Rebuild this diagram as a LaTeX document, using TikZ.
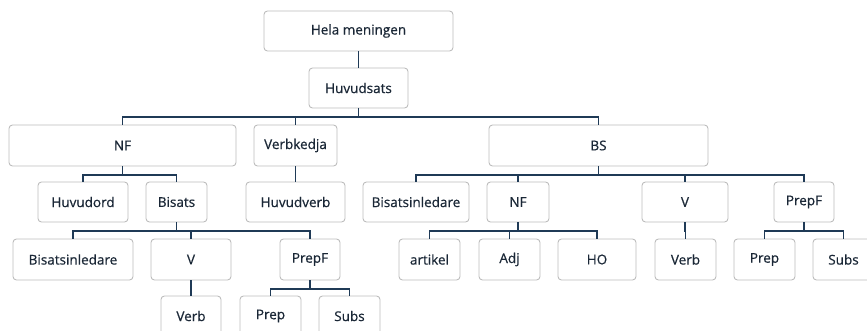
\documentclass[tikz,border=0pt]{standalone}
\usepackage{fontspec}
\setmainfont{Open Sans}
\newfontfamily\labelfont[FakeBold=0.5]{Open Sans}
\definecolor{ink}{HTML}{1A2736}
\definecolor{wire}{HTML}{1F3A56}
\definecolor{frame}{HTML}{BDBDBD}
\begin{document}
\begin{tikzpicture}[x=1pt,y=-1pt,
  box/.style={draw=frame, line width=0.9pt, rounded corners=3.5pt, fill=white,
    text=ink, font=\labelfont\fontsize{13.5}{15}\selectfont, inner sep=0pt, minimum height=40pt},
  link/.style={draw=wire, line width=1.8pt}]
\useasboundingbox (0,0) rectangle (867,331);
\clip (0,0) rectangle (867,331);

% level 1
\node[box, minimum width=189pt] (hela) at (358.5,31) {Hela meningen};
\node[box, minimum width=99pt]  (huv)  at (358.5,88) {Huvudsats};

% level 2
\node[box, minimum width=227pt, minimum height=41pt] (nf) at (122.5,145.5) {NF};
\node[box, minimum width=83pt,  minimum height=41pt] (vk) at (295.5,145.5) {Verbkedja};
\node[box, minimum width=219pt, minimum height=41pt] (bs) at (598.5,145.5) {BS};

% level 3
\node[box, minimum width=90pt]  (hord)   at (83,202)    {Huvudord};
\node[box, minimum width=61pt]  (bis)    at (176.5,202) {Bisats};
\node[box, minimum width=99pt]  (hverb)  at (295.5,202) {Huvudverb};
\node[box, minimum width=106pt] (bsinl)  at (416,202)   {Bisatsinledare};
\node[box, minimum width=62pt]  (bsnf)   at (518,202)   {NF};
\node[box, minimum width=86pt]  (bsv)    at (685,202)   {V};
\node[box, minimum width=60pt]  (bsprep) at (804,202)   {PrepF};

% level 4
\node[box, minimum width=120pt, minimum height=41pt] (binl)  at (73,259.5)    {Bisatsinledare};
\node[box, minimum width=80pt,  minimum height=41pt] (bv)    at (191,259.5)   {V};
\node[box, minimum width=60pt,  minimum height=41pt] (bpf)   at (310,259.5)   {PrepF};
\node[box, minimum width=61pt,  minimum height=41pt] (art)   at (429.5,259.5) {artikel};
\node[box, minimum width=61pt,  minimum height=41pt] (adj)   at (509.5,259.5) {Adj};
\node[box, minimum width=78pt,  minimum height=41pt] (ho)    at (597,259.5)   {HO};
\node[box, minimum width=61pt,  minimum height=41pt] (rverb) at (685.5,259.5) {Verb};
\node[box, minimum width=61pt,  minimum height=41pt] (rprep) at (764.5,259.5) {Prep};
\node[box, minimum width=61pt,  minimum height=41pt] (rsubs) at (843.5,259.5) {Subs};

% level 5
\node[box, minimum width=60pt] (bverb) at (191,316)   {Verb};
\node[box, minimum width=61pt] (bprep) at (270.5,316) {Prep};
\node[box, minimum width=61pt] (bsubs) at (349.5,316) {Subs};

% elbow connectors from each parent to its children
\draw[link] (hela.south) -- (huv.north);
\foreach \p/\c in {huv/nf, huv/vk, huv/bs,
                   nf/hord, nf/bis, vk/hverb,
                   bs/bsinl, bs/bsnf, bs/bsv, bs/bsprep,
                   bis/binl, bis/bv, bis/bpf,
                   bsnf/art, bsnf/adj, bsnf/ho,
                   bsv/rverb, bsprep/rprep, bsprep/rsubs,
                   bv/bverb, bpf/bprep, bpf/bsubs}
  \draw[link] (\p.south) -- ++(0,8.5) -| (\c.north);
\end{tikzpicture}
\end{document}
